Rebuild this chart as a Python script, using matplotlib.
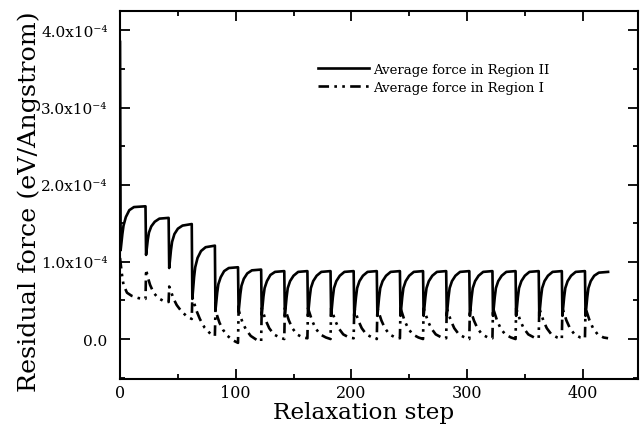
import numpy as np
import matplotlib
matplotlib.use('Agg')
import matplotlib.pyplot as plt
from matplotlib.ticker import MultipleLocator, FuncFormatter

plt.rcParams['font.family'] = 'DejaVu Serif'
plt.rcParams['mathtext.fontset'] = 'dejavuserif'

## values, force in units of 1e-4 eV/Angstrom
scale = 1e-4

step_II = [0, 0.5, 2, 3, 5, 8, 12, 22,
           22.5, 24, 25, 27, 30, 34, 42,
           42.5, 44, 45, 47, 50, 54, 62,
           62.5, 64, 65, 67, 70, 74, 82,
           82.5, 84, 85, 87, 90, 94, 102,
           102.5, 104, 105, 107, 110, 114, 122,
           122.5, 124, 125, 127, 130, 134, 142,
           142.5, 144, 145, 147, 150, 154, 162,
           162.5, 164, 165, 167, 170, 174, 182,
           182.5, 184, 185, 187, 190, 194, 202,
           202.5, 204, 205, 207, 210, 214, 222,
           222.5, 224, 225, 227, 230, 234, 242,
           242.5, 244, 245, 247, 250, 254, 262,
           262.5, 264, 265, 267, 270, 274, 282,
           282.5, 284, 285, 287, 290, 294, 302,
           302.5, 304, 305, 307, 310, 314, 322,
           322.5, 324, 325, 327, 330, 334, 342,
           342.5, 344, 345, 347, 350, 354, 362,
           362.5, 364, 365, 367, 370, 374, 382,
           382.5, 384, 385, 387, 390, 394, 402,
           402.5, 404, 405, 407, 410, 414, 422]
force_II = [3.85, 1.15, 1.36, 1.47, 1.58, 1.67, 1.71, 1.72,
            1.09, 1.29, 1.38, 1.46, 1.52, 1.56, 1.57,
            0.92, 1.15, 1.26, 1.36, 1.43, 1.47, 1.49,
            0.52, 0.80, 0.93, 1.05, 1.14, 1.19, 1.21,
            0.37, 0.60, 0.71, 0.80, 0.88, 0.92, 0.93,
            0.35, 0.58, 0.69, 0.78, 0.85, 0.89, 0.90,
            0.31, 0.55, 0.66, 0.75, 0.83, 0.87, 0.88,
            0.30, 0.54, 0.66, 0.75, 0.82, 0.87, 0.88,
            0.30, 0.54, 0.66, 0.75, 0.82, 0.87, 0.88,
            0.30, 0.54, 0.66, 0.75, 0.82, 0.87, 0.88,
            0.30, 0.54, 0.66, 0.75, 0.82, 0.87, 0.88,
            0.30, 0.54, 0.66, 0.75, 0.82, 0.87, 0.88,
            0.30, 0.54, 0.66, 0.75, 0.82, 0.87, 0.88,
            0.30, 0.54, 0.66, 0.75, 0.82, 0.87, 0.88,
            0.30, 0.54, 0.66, 0.75, 0.82, 0.87, 0.88,
            0.30, 0.54, 0.66, 0.75, 0.82, 0.87, 0.88,
            0.30, 0.54, 0.66, 0.75, 0.82, 0.87, 0.88,
            0.30, 0.54, 0.66, 0.75, 0.82, 0.87, 0.88,
            0.30, 0.54, 0.66, 0.75, 0.82, 0.87, 0.88,
            0.30, 0.54, 0.66, 0.75, 0.82, 0.87, 0.88,
            0.30, 0.54, 0.66, 0.75, 0.82, 0.86, 0.87]

step_I = [0, 1.5, 3, 6, 10, 16, 22,
          22.5, 24, 26, 29, 33, 38, 42,
          42.5, 44, 46, 49, 53, 58, 62,
          62.5, 64, 66, 69, 73, 78, 82,
          82.5, 84, 86, 89, 93, 98, 102,
          102.5, 104, 106, 109, 113, 118, 122,
          122.5, 124, 126, 129, 133, 138, 142,
          142.5, 144, 146, 149, 153, 158, 162,
          162.5, 164, 166, 169, 173, 178, 182,
          182.5, 184, 186, 189, 193, 198, 202,
          202.5, 204, 206, 209, 213, 218, 222,
          222.5, 224, 226, 229, 233, 238, 242,
          242.5, 244, 246, 249, 253, 258, 262,
          262.5, 264, 266, 269, 273, 278, 282,
          282.5, 284, 286, 289, 293, 298, 302,
          302.5, 304, 306, 309, 313, 318, 322,
          322.5, 324, 326, 329, 333, 338, 342,
          342.5, 344, 346, 349, 353, 358, 362,
          362.5, 364, 366, 369, 373, 378, 382,
          382.5, 384, 386, 389, 393, 398, 402,
          402.5, 404, 406, 409, 413, 418, 422]
force_I = [1.05, 0.85, 0.70, 0.60, 0.56, 0.53, 0.52,
           0.90, 0.80, 0.70, 0.60, 0.53, 0.49, 0.48,
           0.68, 0.62, 0.53, 0.44, 0.36, 0.29, 0.26,
           0.55, 0.47, 0.37, 0.26, 0.15, 0.07, 0.04,
           0.38, 0.30, 0.21, 0.12, 0.04, -0.02, -0.05,
           0.38, 0.30, 0.21, 0.12, 0.04, -0.01, -0.03,
           0.40, 0.33, 0.24, 0.14, 0.06, 0.02, 0.00,
           0.40, 0.33, 0.24, 0.14, 0.06, 0.02, 0.01,
           0.40, 0.33, 0.24, 0.14, 0.06, 0.02, 0.00,
           0.40, 0.33, 0.24, 0.14, 0.06, 0.02, 0.01,
           0.40, 0.33, 0.24, 0.14, 0.06, 0.02, 0.00,
           0.40, 0.33, 0.24, 0.14, 0.06, 0.02, 0.01,
           0.40, 0.33, 0.24, 0.14, 0.06, 0.02, 0.00,
           0.40, 0.33, 0.24, 0.14, 0.06, 0.02, 0.01,
           0.40, 0.33, 0.24, 0.14, 0.06, 0.02, 0.00,
           0.40, 0.33, 0.24, 0.14, 0.06, 0.02, 0.01,
           0.40, 0.33, 0.24, 0.14, 0.06, 0.02, 0.00,
           0.40, 0.33, 0.24, 0.14, 0.06, 0.02, 0.01,
           0.40, 0.33, 0.24, 0.14, 0.06, 0.02, 0.00,
           0.40, 0.33, 0.24, 0.14, 0.06, 0.02, 0.01,
           0.40, 0.33, 0.24, 0.14, 0.06, 0.02, 0.01]

labels = ['Average force in Region II', 'Average force in Region I']

fig = plt.figure(figsize=(6.42, 4.31), dpi=100)
ax = fig.add_axes([0.187, 0.118, 0.807, 0.854])

ax.plot(step_II, np.array(force_II) * scale, 'k-', lw=1.9, label=labels[0])
ax.plot(step_I, np.array(force_I) * scale, color='k', lw=1.9,
        linestyle=(0, (4, 2, 1, 2, 1, 2)), label=labels[1])

ax.set_xlim(0, 448)
ax.set_ylim(-0.52e-4, 4.25e-4)
ax.xaxis.set_major_locator(MultipleLocator(100))
ax.xaxis.set_minor_locator(MultipleLocator(50))
ax.yaxis.set_major_locator(MultipleLocator(1e-4))
ax.yaxis.set_minor_locator(MultipleLocator(0.5e-4))


def yfmt(v, pos):
    if abs(v) < 1e-9:
        return '0.0'
    return '%.1fx10\u207b\u2074' % (v / 1e-4)


ax.yaxis.set_major_formatter(FuncFormatter(yfmt))
ax.tick_params(which='both', direction='in', top=True, right=True, width=1.3)
ax.tick_params(which='major', length=7.5, labelsize=11.5)
ax.tick_params(which='minor', length=3.5)
ax.tick_params(axis='y', which='major', pad=9, labelsize=11)
for s in ax.spines.values():
    s.set_linewidth(1.5)

ax.set_xlabel('Relaxation step', fontsize=16.7)
ax.xaxis.set_label_coords(0.47, -0.06)
ax.set_ylabel('Residual force (eV/Angstrom)', fontsize=18.3)
ax.yaxis.set_label_coords(-0.152, 0.484)

ax.legend(loc='upper left', bbox_to_anchor=(0.36, 0.891), frameon=False,
          fontsize=9.5, handlelength=3.8, handletextpad=0.35, labelspacing=0.35)

plt.savefig('out.png', dpi=100)
